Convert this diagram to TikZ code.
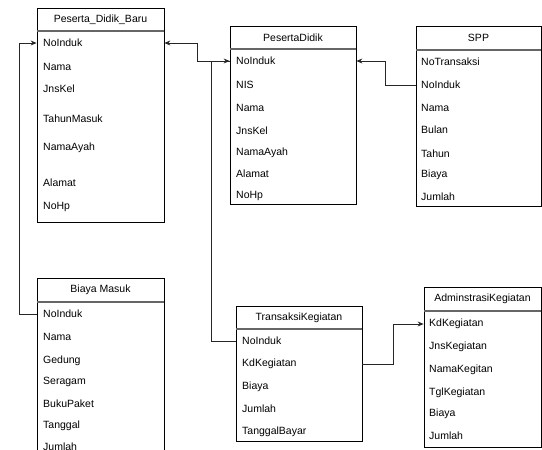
\documentclass[tikz,border=0pt]{standalone}
\usepackage{fontspec}
\setmainfont{Liberation Sans}
\usetikzlibrary{arrows.meta}

\begin{document}
\begin{tikzpicture}[x=1pt,y=1pt,yscale=-1,xscale=1,
  font=\fontsize{10.5}{12}\selectfont,
  tbl/.style={draw=black,line width=0.8pt,inner sep=0pt,fill=white},
  head/.style={inner sep=0pt},
  sep/.style={draw=black!60,line width=1.3pt},
  field/.style={anchor=west,inner sep=0pt},
  conn/.style={draw=black!85,line width=0.8pt},
  >={Stealth[length=6pt,width=5pt]}]
\useasboundingbox (0,0) rectangle (542,450);

%Shape: Peserta_Didik_Baru
\node [tbl,minimum width=127,minimum height=214] (pdb) at (100.5,115) {};
\draw [sep] (37,31) -- (164,31);
% Text Node
\node [head] (pdb-h) at (100.5,19.5) {Peserta\_Didik\_Baru};
\node [field] (pdb-no) at (43,43) {NoInduk};
\node [field] (pdb-nama) at (43,67) {Nama};
\node [field] (pdb-jk) at (43,89) {JnsKel};
\node [field] (pdb-th) at (43,119) {TahunMasuk};
\node [field] (pdb-ayah) at (43,148) {NamaAyah};
\node [field] (pdb-alamat) at (43,183) {Alamat};
\node [field] (pdb-hp) at (43,207) {NoHp};

%Shape: PesertaDidik
\node [tbl,minimum width=126,minimum height=178] (pd) at (293,115) {};
\draw [sep] (230,49) -- (356,49);
% Text Node
\node [head] (pd-h) at (293,37.5) {PesertaDidik};
\node [field] (pd-no) at (236,61) {NoInduk};
\node [field] (pd-nis) at (236,85) {NIS};
\node [field] (pd-nama) at (236,108) {Nama};
\node [field] (pd-jk) at (236,131) {JnsKel};
\node [field] (pd-ayah) at (236,153) {NamaAyah};
\node [field] (pd-alamat) at (236,174) {Alamat};
\node [field] (pd-hp) at (236,196) {NoHp};

%Shape: SPP
\node [tbl,minimum width=125,minimum height=180] (spp) at (478.5,116) {};
\draw [sep] (416,50) -- (541,50);
% Text Node
\node [head] (spp-h) at (478.5,38) {SPP};
\node [field] (spp-trx) at (421,62) {NoTransaksi};
\node [field] (spp-no) at (421,85) {NoInduk};
\node [field] (spp-nama) at (421,108) {Nama};
\node [field] (spp-bulan) at (421,130) {Bulan};
\node [field] (spp-tahun) at (421,154) {Tahun};
\node [field] (spp-biaya) at (421,175) {Biaya};
\node [field] (spp-jml) at (421,197) {Jumlah};

%Shape: Biaya Masuk
\node [tbl,minimum width=127,minimum height=190] (bm) at (100.5,373) {};
\draw [sep] (37,302) -- (164,302);
% Text Node
\node [head] (bm-h) at (100.5,290) {Biaya Masuk};
\node [field] (bm-no) at (43,314) {NoInduk};
\node [field] (bm-nama) at (43,337) {Nama};
\node [field] (bm-gedung) at (43,361) {Gedung};
\node [field] (bm-seragam) at (43,382) {Seragam};
\node [field] (bm-buku) at (43,404) {BukuPaket};
\node [field] (bm-tgl) at (43,426) {Tanggal};
\node [field] (bm-jml) at (43,447) {Jumlah};

%Shape: TransaksiKegiatan
\node [tbl,minimum width=126,minimum height=135] (tk) at (299,373.5) {};
\draw [sep] (236,329) -- (362,329);
% Text Node
\node [head] (tk-h) at (299,317.5) {TransaksiKegiatan};
\node [field] (tk-no) at (242,341) {NoInduk};
\node [field] (tk-kd) at (242,364) {KdKegiatan};
\node [field] (tk-biaya) at (242,387) {Biaya};
\node [field] (tk-jml) at (242,409) {Jumlah};
\node [field] (tk-tgl) at (242,432) {TanggalBayar};

%Shape: AdminstrasiKegiatan
\node [tbl,minimum width=117,minimum height=160] (ak) at (482.5,367) {};
\draw [sep] (424,311) -- (541,311);
% Text Node
\node [head] (ak-h) at (482.5,299) {AdminstrasiKegiatan};
\node [field] (ak-kd) at (429,324) {KdKegiatan};
\node [field] (ak-jns) at (429,347) {JnsKegiatan};
\node [field] (ak-nama) at (429,370) {NamaKegitan};
\node [field] (ak-tgl) at (429,393) {TglKegiatan};
\node [field] (ak-biaya) at (429,414) {Biaya};
\node [field] (ak-jml) at (429,436) {Jumlah};

%Connectors
\draw [conn,<->] (pdb.east |- pdb-no) -- ++(33,0) |- (pd.west |- pd-no);
\draw [conn] (tk.west |- tk-no) -- ++(-24,0) |- (pd.west |- pd-no);
\draw [conn,->] (spp.west |- spp-no) -- ++(-30,0) |- (pd.east |- pd-no);
\draw [conn,->] (bm.west |- bm-no) -- ++(-17,0) |- (pdb.west |- pdb-no);
\draw [conn,->] (tk.east |- tk-kd) -- ++(31,0) |- (ak.west |- ak-kd);

\end{tikzpicture}
\end{document}
